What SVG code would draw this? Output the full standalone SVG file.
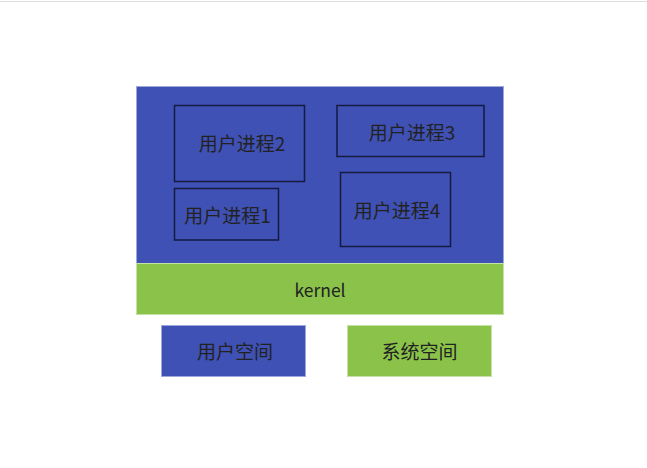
<svg xmlns="http://www.w3.org/2000/svg" width="647" height="468" viewBox="0 0 647 468">
<style>
text{font-family:"Noto Sans CJK SC","Noto Sans",sans-serif;font-size:19px;fill:#222;text-anchor:middle;dominant-baseline:central}
.latin{font-size:17.5px}
.blue{fill:#3F51B5;stroke:#9FA8DA;stroke-width:1}
.green{fill:#8BC34A;stroke:#C5E1A5;stroke-width:1}
.proc{fill:none;stroke:#151a40;stroke-width:1.5}
</style>
<rect width="647" height="468" fill="#fff"/>
<line x1="0" y1="1.5" x2="647" y2="1.5" stroke="#ddd" stroke-width="1"/>
<g id="userspace-area"><rect class="blue" x="136.5" y="86.5" width="367" height="177"/></g>
<g id="kernel"><rect class="green" x="136.5" y="263.5" width="367" height="51"/><text class="latin" x="320" y="289">kernel</text></g>
<g id="proc2"><rect class="proc" x="174.5" y="105.5" width="130" height="76"/><text x="242" y="142.5">用户进程2</text></g>
<g id="proc3"><rect class="proc" x="337" y="105.5" width="147" height="51"/><text x="412" y="131">用户进程3</text></g>
<g id="proc1"><rect class="proc" x="174.5" y="188.5" width="104" height="51.5"/><text x="227.5" y="214">用户进程1</text></g>
<g id="proc4"><rect class="proc" x="340.5" y="172.5" width="110" height="74"/><text x="397" y="209.5">用户进程4</text></g>
<g id="legend-user"><rect class="blue" x="161.5" y="325.5" width="144" height="51"/><text x="235" y="350.5">用户空间</text></g>
<g id="legend-system"><rect class="green" x="347.5" y="325.5" width="144" height="51"/><text x="419.5" y="350.5">系统空间</text></g>
<g id="connectors"></g>
</svg>
